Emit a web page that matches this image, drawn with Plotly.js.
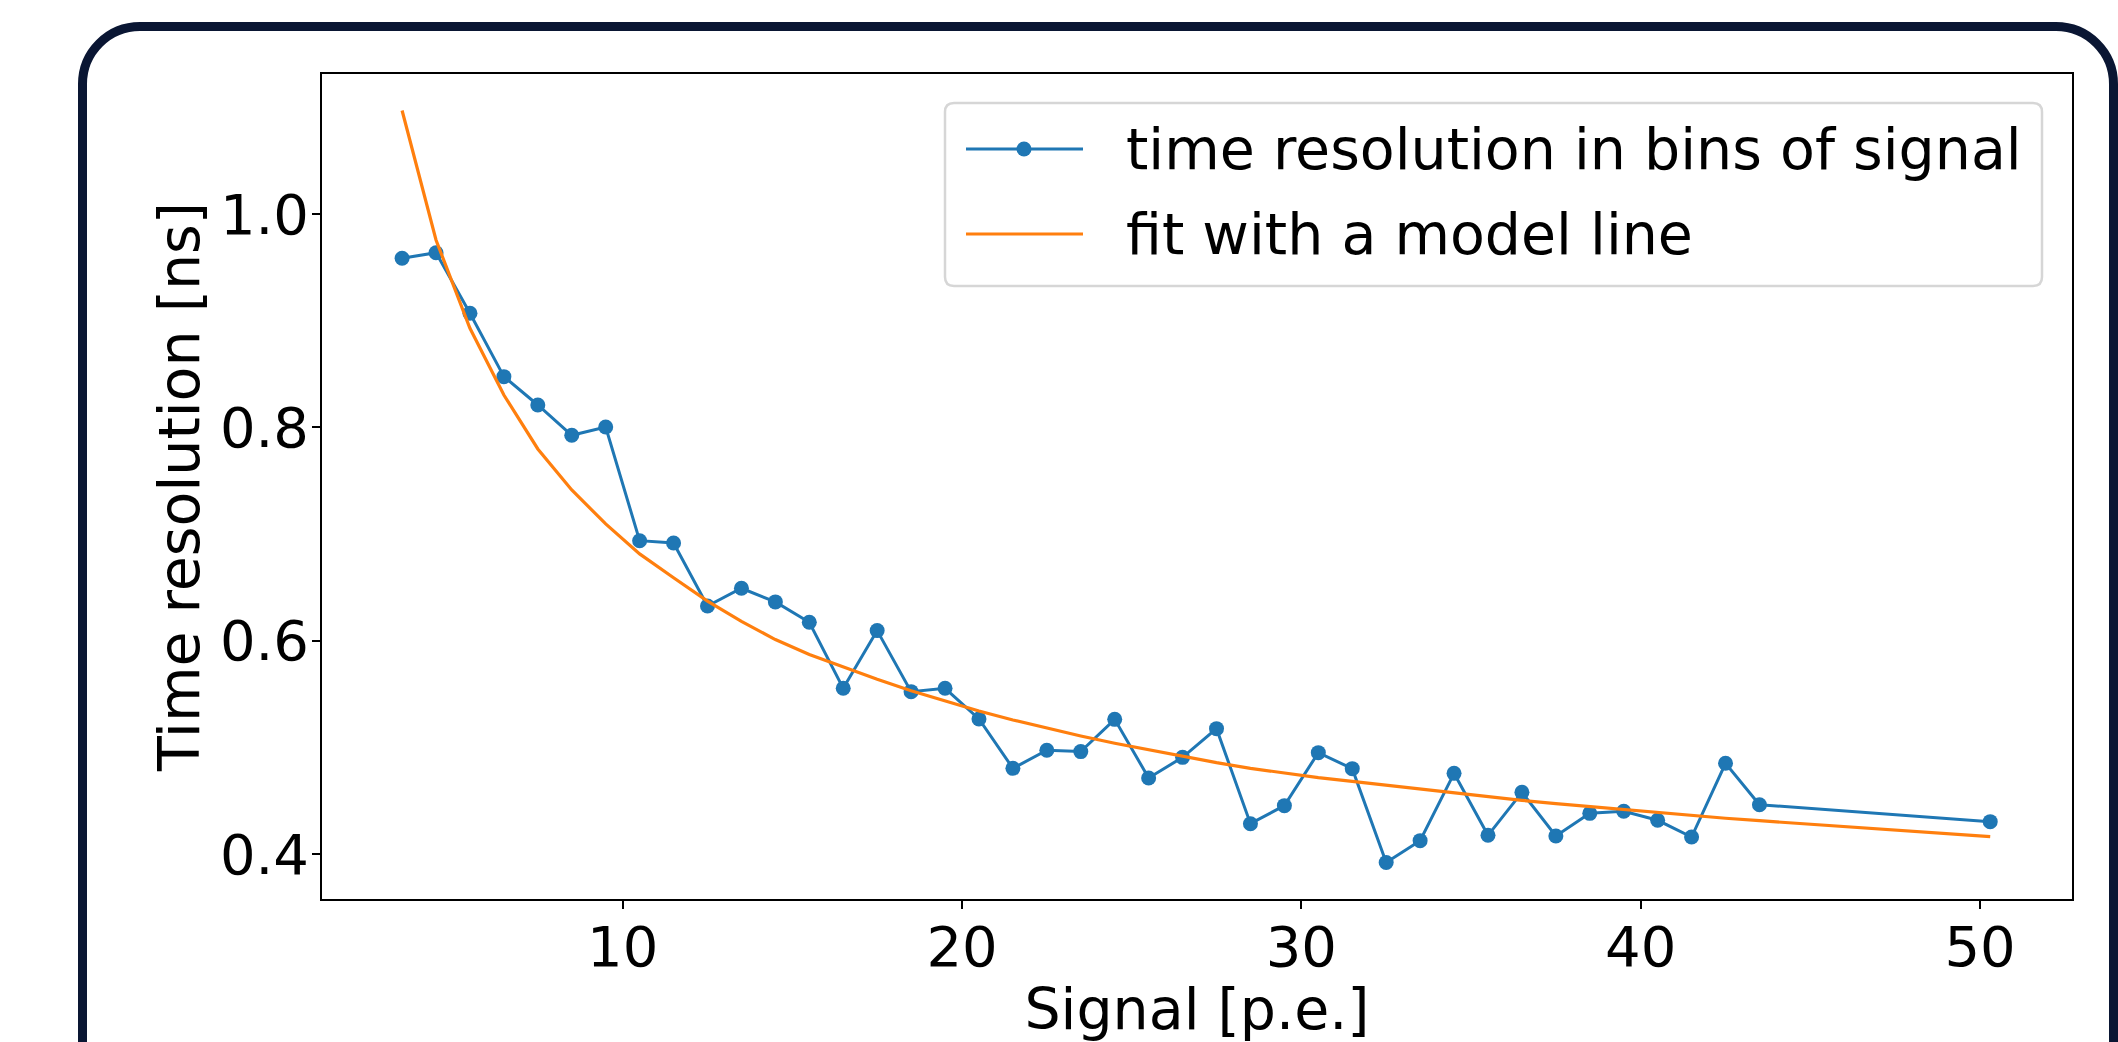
<!DOCTYPE html>
<html>
<head>
<meta charset="utf-8">
<script src="https://cdn.plot.ly/plotly-3.0.1.min.js"></script>
<style>
  html, body { margin: 0; padding: 0; background: #ffffff; overflow: hidden; }
  #wrap { position: relative; width: 2118px; height: 1042px; overflow: hidden; }
  #chart { position: absolute; left: 0; top: 0; width: 2118px; height: 1042px; }
  #frame {
    position: absolute; left: 78px; top: 22px; width: 2040px; height: 1100px;
    box-sizing: border-box; border: 9px solid #0a1633; border-radius: 62px;
    pointer-events: none;
  }
</style>
</head>
<body>
<div id="wrap">
  <div id="chart"></div>
  <div id="frame"></div>
</div>
<script>
// ---- data ----
const signal = [3.5, 4.5, 5.5, 6.5, 7.5, 8.5, 9.5, 10.5, 11.5, 12.5, 13.5, 14.5, 15.5, 16.5,
  17.5, 18.5, 19.5, 20.5, 21.5, 22.5, 23.5, 24.5, 25.5, 26.5, 27.5, 28.5, 29.5, 30.5,
  31.5, 32.5, 33.5, 34.5, 35.5, 36.5, 37.5, 38.5, 39.5, 40.5, 41.5, 42.5, 43.5, 50.3];
const timeResolution = [0.9585, 0.9637, 0.9069, 0.8475, 0.8209, 0.7925, 0.8003, 0.6937,
  0.6916, 0.6325, 0.6491, 0.6363, 0.6172, 0.5553, 0.6094, 0.5522, 0.5553, 0.5266,
  0.4803, 0.4972, 0.4960, 0.5262, 0.4713, 0.4906, 0.5175, 0.4284, 0.4453, 0.4950,
  0.4800, 0.3920, 0.4125, 0.4756, 0.4175, 0.4578, 0.4169, 0.4381, 0.4400, 0.4316,
  0.4159, 0.4850, 0.4462, 0.4303];
const fitLine = [1.0970, 0.9756, 0.8928, 0.8303, 0.7797, 0.7413, 0.7094, 0.6813,
  0.6590, 0.6370, 0.6180, 0.6010, 0.5870, 0.5750, 0.5638, 0.5531, 0.5434, 0.5341,
  0.5256, 0.5178, 0.5106, 0.5038, 0.4975, 0.4913, 0.4856, 0.4803, 0.4756, 0.4716,
  0.4680, 0.4644, 0.4606, 0.4572, 0.4537, 0.4503, 0.4472, 0.4444, 0.4413, 0.4388,
  0.4359, 0.4335, 0.4312, 0.4162];
const seriesNames = ["time resolution in bins of signal", "fit with a model line"];
const xTickVals = [10, 20, 30, 40, 50];
const yTickVals = [0.4, 0.6, 0.8, 1.0];
const yTickText = ["0.4", "0.6", "0.8", "1.0"];
const xTitle = "Signal [p.e.]";
const yTitle = "Time resolution [ns]";

// ---- layout geometry ----
const W = 2118, H = 1042;
const M = { l: 322, r: 46, t: 74, b: 143 };
const PW = W - M.l - M.r, PH = H - M.t - M.b;
const X = px => (px - M.l) / PW;
const Y = py => (H - M.b - py) / PH;
const BLUE = "#1f77b4", ORANGE = "#ff7f0e";
const FONT = "DejaVu Sans, Verdana, sans-serif";

function roundRect(x0, y0, x1, y1, r) {
  const p = (a, b) => X(a).toFixed(5) + "," + Y(b).toFixed(5);
  return "M" + p(x0 + r, y0) + " L" + p(x1 - r, y0) + " Q" + p(x1, y0) + " " + p(x1, y0 + r) +
    " L" + p(x1, y1 - r) + " Q" + p(x1, y1) + " " + p(x1 - r, y1) +
    " L" + p(x0 + r, y1) + " Q" + p(x0, y1) + " " + p(x0, y1 - r) +
    " L" + p(x0, y0 + r) + " Q" + p(x0, y0) + " " + p(x0 + r, y0) + " Z";
}

const traces = [
  { x: signal, y: timeResolution, type: "scatter", mode: "lines+markers", name: seriesNames[0],
    line: { color: BLUE, width: 3 }, marker: { color: BLUE, size: 15 }, showlegend: false, cliponaxis: false },
  { x: signal, y: fitLine, type: "scatter", mode: "lines", name: seriesNames[1],
    line: { color: ORANGE, width: 3.2 }, showlegend: false, cliponaxis: false }
];

// custom legend (matplotlib style)
const legBox = { x0: 945, y0: 103, x1: 2042, y1: 286 };
const rows = [149, 234];
const sampleX0 = 966, sampleX1 = 1083, textX = 1124;
const shapes = [
  { type: "path", xref: "paper", yref: "paper", path: roundRect(legBox.x0, legBox.y0, legBox.x1, legBox.y1, 9),
    line: { color: "#d6d6d6", width: 2.5 }, fillcolor: "rgba(255,255,255,0.8)", layer: "above" },
  { type: "line", xref: "paper", yref: "paper", x0: X(sampleX0), x1: X(sampleX1), y0: Y(rows[0]), y1: Y(rows[0]),
    line: { color: BLUE, width: 3 }, layer: "above" },
  { type: "circle", xref: "paper", yref: "paper", x0: X(1024 - 7.5), x1: X(1024 + 7.5), y0: Y(rows[0] + 7.5), y1: Y(rows[0] - 7.5),
    line: { width: 0 }, fillcolor: BLUE, layer: "above" },
  { type: "line", xref: "paper", yref: "paper", x0: X(sampleX0), x1: X(sampleX1), y0: Y(rows[1]), y1: Y(rows[1]),
    line: { color: ORANGE, width: 3.2 }, layer: "above" }
];
const annotations = seriesNames.map((t, i) => ({
  text: t, xref: "paper", yref: "paper", x: X(textX), y: Y(rows[i]), xanchor: "left", yanchor: "middle",
  showarrow: false, font: { family: FONT, size: 57, color: "#000000" }
}));

const axisCommon = {
  showline: true, linecolor: "#000000", linewidth: 1.8, mirror: true,
  ticks: "outside", ticklen: 8, tickwidth: 1.8, tickcolor: "#000000",
  showgrid: false, zeroline: false,
  tickfont: { family: FONT, size: 56, color: "#000000" }
};

const layout = {
  width: W, height: H,
  margin: M,
  paper_bgcolor: "rgba(0,0,0,0)", plot_bgcolor: "#ffffff",
  font: { family: FONT, color: "#000000" },
  showlegend: false,
  xaxis: Object.assign({}, axisCommon, {
    range: [1.14, 52.71], tickmode: "array", tickvals: xTickVals, ticklabelstandoff: -10,
    title: { text: xTitle, font: { family: FONT, size: 57, color: "#000000" }, standoff: 12 }
  }),
  yaxis: Object.assign({}, axisCommon, {
    range: [0.3578, 1.1312], tickmode: "array", tickvals: yTickVals, ticktext: yTickText, ticklabelstandoff: -8,
    title: { text: yTitle, font: { family: FONT, size: 57, color: "#000000" }, standoff: 2 }
  }),
  shapes: shapes,
  annotations: annotations
};

Plotly.newPlot("chart", traces, layout, { staticPlot: true, displayModeBar: false });
</script>
</body>
</html>
